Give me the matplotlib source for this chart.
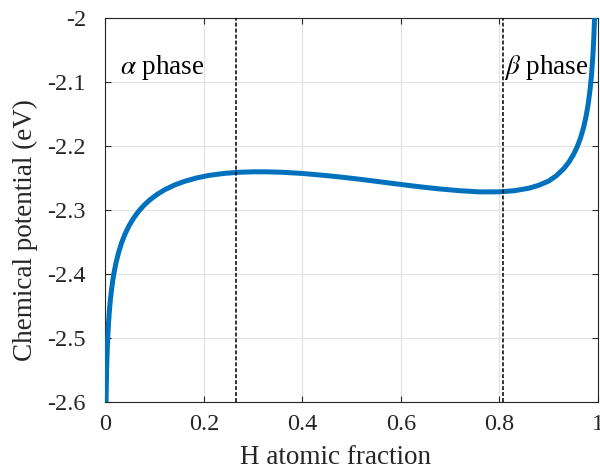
import matplotlib
matplotlib.use("Agg")
import matplotlib.pyplot as plt

# Chemical potential of H versus atomic fraction
h_fraction = [0.00134, 0.0017, 0.002, 0.0025, 0.003, 0.004, 0.005, 0.0065, 0.008,
              0.010, 0.0125, 0.015, 0.018, 0.022, 0.027, 0.033, 0.040, 0.048,
              0.057, 0.067, 0.078, 0.090, 0.105, 0.12, 0.14, 0.16, 0.185, 0.21,
              0.24, 0.27, 0.30, 0.33, 0.36, 0.40, 0.44, 0.48, 0.52, 0.56, 0.60,
              0.64, 0.68, 0.72, 0.76, 0.80, 0.83, 0.86, 0.88, 0.90, 0.915, 0.93,
              0.94, 0.95, 0.958, 0.965, 0.971, 0.976, 0.980, 0.984, 0.987,
              0.9895, 0.9915, 0.993, 0.9935]
chem_potential = [-2.6000, -2.5810, -2.5681, -2.5504, -2.5359, -2.5131, -2.4956,
                  -2.4749, -2.4586, -2.4412, -2.4240, -2.4100, -2.3960, -2.3810,
                  -2.3658, -2.3510, -2.3373, -2.3246, -2.3130, -2.3024, -2.2929,
                  -2.2843, -2.2756, -2.2685, -2.2611, -2.2554, -2.2499, -2.2460,
                  -2.2429, -2.2411, -2.2403, -2.2404, -2.2411, -2.2429, -2.2456,
                  -2.2487, -2.2523, -2.2562, -2.2601, -2.2639, -2.2672, -2.2699,
                  -2.2717, -2.2716, -2.2699, -2.2659, -2.2613, -2.2547, -2.2467,
                  -2.2358, -2.2262, -2.2137, -2.2008, -2.1864, -2.1702, -2.1529,
                  -2.1350, -2.1114, -2.0873, -2.0604, -2.0309, -2.0008, -1.9884]

# Phase boundaries
phase_bounds = [0.265, 0.807]
phase_labels = [r"$\alpha$ phase", r"$\beta$ phase"]
label_x = [0.03, 0.81]
label_y = -2.078

x_ticks = [0, 0.2, 0.4, 0.6, 0.8, 1]
x_ticklabels = ["0", "0.2", "0.4", "0.6", "0.8", "1"]
y_ticks = [-2.6, -2.5, -2.4, -2.3, -2.2, -2.1, -2.0]
y_ticklabels = ["-2.6", "-2.5", "-2.4", "-2.3", "-2.2", "-2.1", "-2"]

plt.rcParams["font.family"] = ["Liberation Serif", "DejaVu Serif"]
plt.rcParams["mathtext.fontset"] = "stix"
plt.rcParams["axes.unicode_minus"] = False

dark = "#262626"
fig = plt.figure(figsize=(6.0, 4.71), dpi=100)
ax = fig.add_axes([105.4 / 600, 69 / 471, (598 - 105.4) / 600, (402 - 18) / 471])

ax.plot(h_fraction, chem_potential, color="#0072BD", lw=3.6, solid_capstyle="butt",
        solid_joinstyle="round", zorder=3, clip_on=True)
for xb in phase_bounds:
    ax.axvline(xb, color="black", lw=1.1, linestyle=(0, (2.6, 1.3)), zorder=4)

for txt, tx in zip(phase_labels, label_x):
    ax.text(tx, label_y, txt, fontsize=19.5, color="black", ha="left", va="center")

ax.set_xlim(0, 1)
ax.set_ylim(-2.6, -2.0)
ax.set_xticks(x_ticks)
ax.set_xticklabels(x_ticklabels)
ax.set_yticks(y_ticks)
ax.set_yticklabels(y_ticklabels)

ax.grid(True, color="#e3e3e3", lw=0.9, zorder=0)
ax.set_axisbelow(True)
for s in ax.spines.values():
    s.set_color(dark)
    s.set_linewidth(0.8)
ax.tick_params(direction="in", length=4.5, width=0.8, color=dark, labelcolor=dark,
               labelsize=17.5, top=True, right=True)
ax.tick_params(axis="y", pad=14)
ax.tick_params(axis="x", pad=9)

ax.set_xlabel("H atomic fraction", fontsize=19.5, color=dark)
ax.set_ylabel("Chemical potential (eV)", fontsize=19.5, color=dark)
ax.xaxis.set_label_coords((336 - 105.4) / 492.6, -(458 - 402) / 384)
ax.yaxis.set_label_coords(-(105.4 - 25) / 492.6, (402 - 230) / 384)
ax.xaxis.label.set_va("center")
ax.yaxis.label.set_va("center")

fig.savefig("out.png", dpi=100)
